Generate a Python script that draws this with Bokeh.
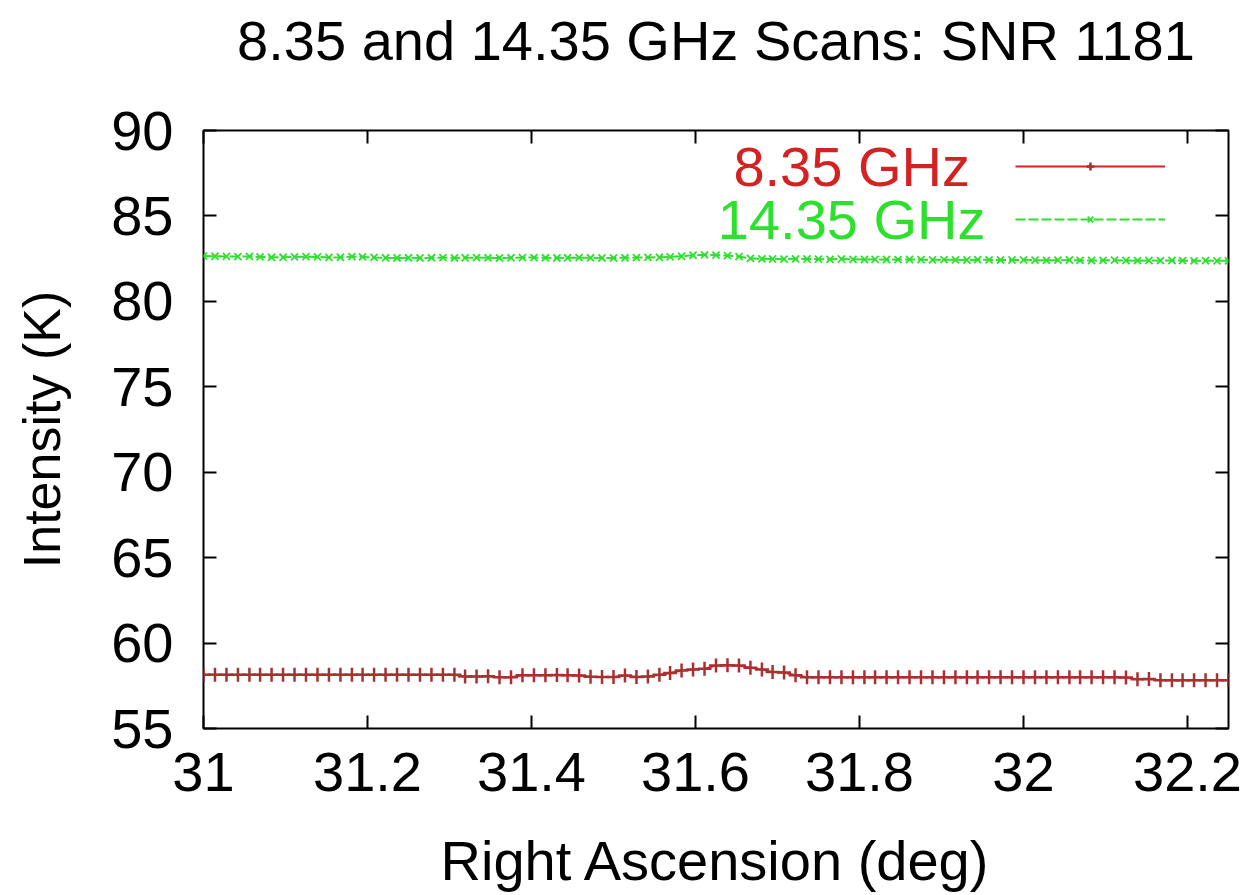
from bokeh.plotting import figure
from bokeh.models import (Range1d, LinearAxis, FixedTicker, Legend, LegendItem, Label,
                          CustomJSTickFormatter)
from bokeh.embed import file_html
from bokeh.resources import INLINE

ra = [31.000, 31.014, 31.028, 31.042, 31.056, 31.069, 31.083, 31.097, 31.111, 31.125,
      31.139, 31.153, 31.167, 31.181, 31.194, 31.208, 31.222, 31.236, 31.250, 31.264,
      31.278, 31.292, 31.306, 31.319, 31.333, 31.347, 31.361, 31.375, 31.389, 31.403,
      31.417, 31.431, 31.444, 31.458, 31.472, 31.486, 31.500, 31.514, 31.528, 31.542,
      31.556, 31.569, 31.583, 31.597, 31.611, 31.625, 31.639, 31.653, 31.667, 31.681,
      31.694, 31.708, 31.722, 31.736, 31.750, 31.764, 31.778, 31.792, 31.806, 31.819,
      31.833, 31.847, 31.861, 31.875, 31.889, 31.903, 31.917, 31.931, 31.944, 31.958,
      31.972, 31.986, 32.000, 32.014, 32.028, 32.042, 32.056, 32.069, 32.083, 32.097,
      32.111, 32.125, 32.139, 32.153, 32.167, 32.181, 32.194, 32.208, 32.222, 32.236,
      32.250]

t_835 = [58.15, 58.15, 58.15, 58.15, 58.15, 58.15, 58.15, 58.15, 58.15, 58.15,
         58.15, 58.15, 58.15, 58.15, 58.15, 58.15, 58.15, 58.15, 58.15, 58.15,
         58.15, 58.15, 58.14, 58.05, 58.05, 58.06, 58.00, 58.00, 58.12, 58.12,
         58.12, 58.13, 58.12, 58.10, 58.03, 58.02, 58.02, 58.10, 58.02, 58.04,
         58.15, 58.25, 58.40, 58.45, 58.50, 58.68, 58.70, 58.68, 58.55, 58.45,
         58.30, 58.28, 58.12, 58.00, 58.00, 58.00, 58.00, 58.00, 58.00, 58.00,
         58.00, 58.00, 58.00, 58.00, 58.00, 58.00, 58.00, 58.00, 58.00, 58.00,
         58.00, 58.00, 58.00, 58.00, 58.00, 58.00, 58.00, 58.00, 58.00, 58.00,
         58.00, 57.98, 57.88, 57.90, 57.82, 57.82, 57.82, 57.82, 57.82, 57.82,
         57.82]

t_1435 = [82.65, 82.64, 82.63, 82.62, 82.63, 82.60, 82.58, 82.58, 82.60, 82.62,
          82.60, 82.57, 82.58, 82.62, 82.60, 82.57, 82.55, 82.54, 82.55, 82.54,
          82.55, 82.56, 82.54, 82.55, 82.56, 82.55, 82.54, 82.55, 82.56, 82.56,
          82.55, 82.54, 82.55, 82.56, 82.55, 82.54, 82.54, 82.55, 82.56, 82.57,
          82.58, 82.60, 82.64, 82.70, 82.72, 82.71, 82.68, 82.62, 82.52, 82.49,
          82.48, 82.47, 82.49, 82.48, 82.47, 82.46, 82.48, 82.46, 82.45, 82.46,
          82.45, 82.44, 82.45, 82.44, 82.43, 82.44, 82.43, 82.42, 82.44, 82.43,
          82.42, 82.42, 82.43, 82.41, 82.40, 82.41, 82.42, 82.40, 82.39, 82.40,
          82.41, 82.39, 82.38, 82.39, 82.38, 82.39, 82.38, 82.37, 82.38, 82.37,
          82.37]

x_ticks = [31.0, 31.2, 31.4, 31.6, 31.8, 32.0, 32.2]
x_tick_labels = ["31", "31.2", "31.4", "31.6", "31.8", "32", "32.2"]
y_ticks = [55, 60, 65, 70, 75, 80, 85, 90]

RED = "#d42222"
RED_MARK = "#a83030"
GREEN = "#2ee02e"
FONT = "Liberation Sans"
FS = "56px"

p = figure(frame_width=1025, frame_height=598, output_backend="svg", title=None,
           toolbar_location=None, x_range=Range1d(31.0, 32.25), y_range=Range1d(55, 90),
           min_border_left=203, min_border_right=20, min_border_top=130, min_border_bottom=150)
p.background_fill_color = "white"
p.border_fill_color = "white"
p.xgrid.visible = False
p.ygrid.visible = False
p.outline_line_color = "black"
p.outline_line_width = 2

def style(ax, ticks, labels=True):
    ax.ticker = FixedTicker(ticks=ticks)
    ax.axis_line_color = None
    ax.major_tick_in = 13
    ax.major_tick_out = 0
    ax.minor_tick_line_color = None
    ax.major_tick_line_width = 2
    ax.major_tick_line_color = "black"
    ax.major_label_text_font = FONT
    ax.major_label_text_font_size = FS
    ax.major_label_text_color = "black"
    ax.axis_label_text_font = FONT
    ax.axis_label_text_font_size = FS
    ax.axis_label_text_font_style = "normal"
    ax.axis_label_text_color = "black"
    if not labels:
        ax.formatter = CustomJSTickFormatter(code="return ''")
        ax.major_label_standoff = 0

xa = p.xaxis[0]
style(xa, x_ticks)
xa.major_label_overrides = {t: l for t, l in zip(x_ticks, x_tick_labels)}
xa.major_label_standoff = 24
xa.axis_label = "Right Ascension (deg)"
xa.axis_label_standoff = 35

ya = p.yaxis[0]
style(ya, y_ticks)
ya.major_label_standoff = 30
ya.axis_label = "Intensity (K)"
ya.axis_label_text_font_size = "52px"
ya.axis_label_standoff = 37

# top axis: mirrored ticks, carries the chart title as its label
xt = LinearAxis()
style(xt, x_ticks, labels=False)
xt.axis_label = "8.35 and 14.35 GHz Scans: SNR 1181"
xt.axis_label_standoff = 59
p.add_layout(xt, "above")

yr = LinearAxis()
style(yr, y_ticks, labels=False)
p.add_layout(yr, "right")

l1 = p.line(ra, t_835, line_color=RED, line_width=2)
s1 = p.scatter(ra, t_835, marker="cross", size=14, line_color=RED_MARK, line_width=2.5)
l2 = p.line(ra, t_1435, line_color=GREEN, line_width=2, line_dash="10 3")
s2 = p.scatter(ra, t_1435, marker="x", size=10, line_color=GREEN, line_width=1.8)

leg = Legend(items=[LegendItem(label=" ", renderers=[l1, s1]),
                    LegendItem(label=" ", renderers=[l2, s2])],
             location=(812, 499), orientation="vertical",
             glyph_width=150, glyph_height=20, label_height=20, label_width=1,
             label_standoff=0, label_text_font_size="2px", padding=0, margin=0,
             spacing=33, border_line_color=None, background_fill_alpha=0)
p.add_layout(leg, "center")

p.add_layout(Label(x=782, y=562, x_units="screen", y_units="screen", text="8.35  GHz",
                   text_align="right", text_baseline="middle", text_font=FONT,
                   text_font_size=FS, text_color=RED))
p.add_layout(Label(x=782, y=509, x_units="screen", y_units="screen", text="14.35 GHz",
                   text_align="right", text_baseline="middle", text_font=FONT,
                   text_font_size=FS, text_color=GREEN))

open("out.html", "w").write(file_html(p, INLINE))
